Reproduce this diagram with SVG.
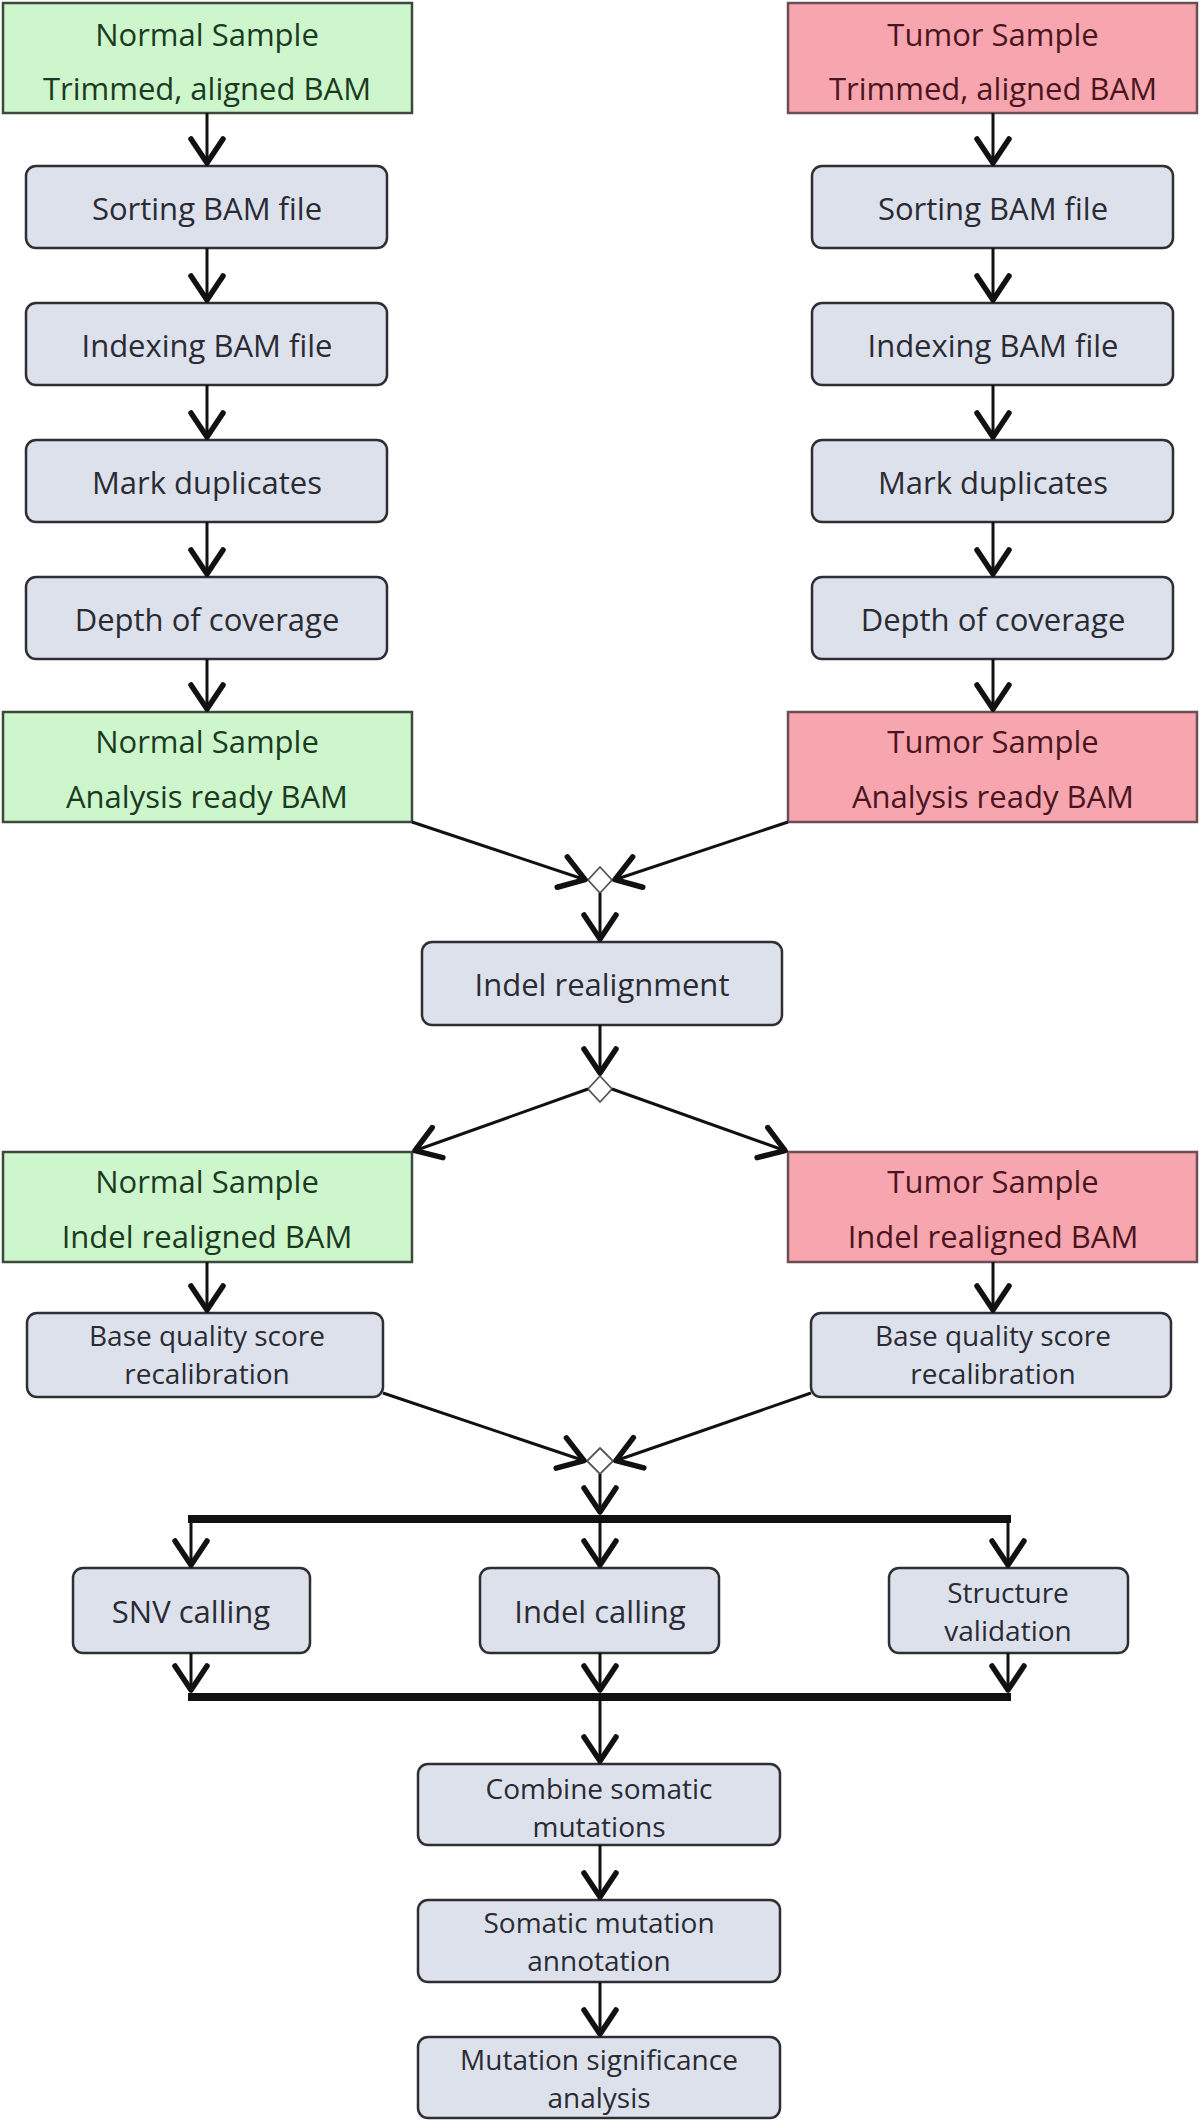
<svg xmlns="http://www.w3.org/2000/svg" width="1200" height="2121" viewBox="0 0 1200 2121">
<style>
text{font-family:"Open Sans","Noto Sans","Liberation Sans",sans-serif;font-size:31px;text-anchor:middle}
text.two{font-size:28px}
.proc rect{fill:#dde1ec;stroke:#2e2e33;stroke-width:2.5}
.proc text{fill:#2a2b33}
.norm rect{fill:#cdf6cd;stroke:#3c4a3c;stroke-width:2.5}
.norm text{fill:#1c3a1f}
.tum rect{fill:#f7a5ae;stroke:#6a5055;stroke-width:2.5}
.tum text{fill:#4a1520}
.dia{fill:#ffffff;stroke:#555;stroke-width:1.8}
#connectors line{stroke:#111;stroke-width:3;fill:none}
.bar{fill:#111}
</style>
<defs>
<marker id="arr" markerUnits="userSpaceOnUse" viewBox="-30 -20 34 40" refX="0" refY="0" markerWidth="34" markerHeight="40" orient="auto" overflow="visible">
<path d="M -25 -16 L -1 0 L -25 16" fill="none" stroke="#111" stroke-width="5.5" stroke-linecap="round" stroke-linejoin="round"/>
</marker>
</defs>
<rect width="1200" height="2121" fill="#ffffff"/>

<g id="normal_trimmed" class="norm"><rect x="3" y="3" width="409" height="110"/><text x="207" y="46">Normal Sample</text><text x="207" y="100">Trimmed, aligned BAM</text></g>
<g id="tumor_trimmed" class="tum"><rect x="788" y="3" width="409" height="110"/><text x="993" y="46">Tumor Sample</text><text x="993" y="100">Trimmed, aligned BAM</text></g>

<g id="n_sort" class="proc"><rect x="26" y="166" width="361" height="82" rx="10"/><text x="207" y="220">Sorting BAM file</text></g>
<g id="n_index" class="proc"><rect x="26" y="303" width="361" height="82" rx="10"/><text x="207" y="357">Indexing BAM file</text></g>
<g id="n_mark" class="proc"><rect x="26" y="440" width="361" height="82" rx="10"/><text x="207" y="494">Mark duplicates</text></g>
<g id="n_depth" class="proc"><rect x="26" y="577" width="361" height="82" rx="10"/><text x="207" y="631">Depth of coverage</text></g>

<g id="t_sort" class="proc"><rect x="812" y="166" width="361" height="82" rx="10"/><text x="993" y="220">Sorting BAM file</text></g>
<g id="t_index" class="proc"><rect x="812" y="303" width="361" height="82" rx="10"/><text x="993" y="357">Indexing BAM file</text></g>
<g id="t_mark" class="proc"><rect x="812" y="440" width="361" height="82" rx="10"/><text x="993" y="494">Mark duplicates</text></g>
<g id="t_depth" class="proc"><rect x="812" y="577" width="361" height="82" rx="10"/><text x="993" y="631">Depth of coverage</text></g>

<g id="normal_ready" class="norm"><rect x="3" y="712" width="409" height="110"/><text x="207" y="753">Normal Sample</text><text x="207" y="808">Analysis ready BAM</text></g>
<g id="tumor_ready" class="tum"><rect x="788" y="712" width="409" height="110"/><text x="993" y="753">Tumor Sample</text><text x="993" y="808">Analysis ready BAM</text></g>

<g id="merge1"><path class="dia" d="M600 867 L612 880 L600 893 L588 880 Z"/></g>
<g id="indel_realign" class="proc"><rect x="422" y="942" width="360" height="83" rx="10"/><text x="602" y="996">Indel realignment</text></g>
<g id="split1"><path class="dia" d="M600 1076 L612 1089 L600 1102 L588 1089 Z"/></g>

<g id="normal_realigned" class="norm"><rect x="3" y="1152" width="409" height="110"/><text x="207" y="1193">Normal Sample</text><text x="207" y="1248">Indel realigned BAM</text></g>
<g id="tumor_realigned" class="tum"><rect x="788" y="1152" width="409" height="110"/><text x="993" y="1193">Tumor Sample</text><text x="993" y="1248">Indel realigned BAM</text></g>

<g id="n_bqsr" class="proc"><rect x="27" y="1313" width="356" height="84" rx="10"/><text class="two" x="207" y="1346">Base quality score</text><text class="two" x="207" y="1384">recalibration</text></g>
<g id="t_bqsr" class="proc"><rect x="811" y="1313" width="360" height="84" rx="10"/><text class="two" x="993" y="1346">Base quality score</text><text class="two" x="993" y="1384">recalibration</text></g>

<g id="merge2"><path class="dia" d="M600 1448 L613 1461 L600 1474 L587 1461 Z"/></g>

<g id="snv" class="proc"><rect x="73" y="1568" width="237" height="85" rx="10"/><text x="191" y="1623">SNV calling</text></g>
<g id="indel_call" class="proc"><rect x="480" y="1568" width="239" height="85" rx="10"/><text x="600" y="1623">Indel calling</text></g>
<g id="structure" class="proc"><rect x="889" y="1568" width="239" height="85" rx="10"/><text class="two" x="1008" y="1603">Structure</text><text class="two" x="1008" y="1641">validation</text></g>

<g id="combine" class="proc"><rect x="418" y="1764" width="362" height="81" rx="10"/><text class="two" x="599" y="1799">Combine somatic</text><text class="two" x="599" y="1837">mutations</text></g>
<g id="annotation" class="proc"><rect x="418" y="1900" width="362" height="82" rx="10"/><text class="two" x="599" y="1933">Somatic mutation</text><text class="two" x="599" y="1971">annotation</text></g>
<g id="significance" class="proc"><rect x="418" y="2037" width="362" height="81" rx="10"/><text class="two" x="599" y="2070">Mutation significance</text><text class="two" x="599" y="2108">analysis</text></g>

<g id="connectors">
<rect class="bar" x="188" y="1515" width="823" height="8"/>
<rect class="bar" x="188" y="1693" width="823" height="8"/>
<line x1="207" y1="113" x2="207" y2="164" marker-end="url(#arr)"/>
<line x1="207" y1="248" x2="207" y2="301" marker-end="url(#arr)"/>
<line x1="207" y1="385" x2="207" y2="438" marker-end="url(#arr)"/>
<line x1="207" y1="522" x2="207" y2="575" marker-end="url(#arr)"/>
<line x1="207" y1="659" x2="207" y2="710" marker-end="url(#arr)"/>
<line x1="993" y1="113" x2="993" y2="164" marker-end="url(#arr)"/>
<line x1="993" y1="248" x2="993" y2="301" marker-end="url(#arr)"/>
<line x1="993" y1="385" x2="993" y2="438" marker-end="url(#arr)"/>
<line x1="993" y1="522" x2="993" y2="575" marker-end="url(#arr)"/>
<line x1="993" y1="659" x2="993" y2="710" marker-end="url(#arr)"/>
<line x1="412" y1="822" x2="586" y2="880" marker-end="url(#arr)"/>
<line x1="788" y1="822" x2="614" y2="880" marker-end="url(#arr)"/>
<line x1="600" y1="893" x2="600" y2="940" marker-end="url(#arr)"/>
<line x1="600" y1="1025" x2="600" y2="1074" marker-end="url(#arr)"/>
<line x1="588" y1="1089" x2="414" y2="1151" marker-end="url(#arr)"/>
<line x1="612" y1="1089" x2="786" y2="1151" marker-end="url(#arr)"/>
<line x1="207" y1="1262" x2="207" y2="1311" marker-end="url(#arr)"/>
<line x1="993" y1="1262" x2="993" y2="1311" marker-end="url(#arr)"/>
<line x1="383" y1="1393" x2="585" y2="1461" marker-end="url(#arr)"/>
<line x1="811" y1="1393" x2="615" y2="1461" marker-end="url(#arr)"/>
<line x1="600" y1="1474" x2="600" y2="1513" marker-end="url(#arr)"/>
<line x1="191" y1="1523" x2="191" y2="1566" marker-end="url(#arr)"/>
<line x1="600" y1="1523" x2="600" y2="1566" marker-end="url(#arr)"/>
<line x1="1008" y1="1523" x2="1008" y2="1566" marker-end="url(#arr)"/>
<line x1="191" y1="1653" x2="191" y2="1691" marker-end="url(#arr)"/>
<line x1="600" y1="1653" x2="600" y2="1691" marker-end="url(#arr)"/>
<line x1="1008" y1="1653" x2="1008" y2="1691" marker-end="url(#arr)"/>
<line x1="600" y1="1701" x2="600" y2="1762" marker-end="url(#arr)"/>
<line x1="600" y1="1845" x2="600" y2="1898" marker-end="url(#arr)"/>
<line x1="600" y1="1982" x2="600" y2="2035" marker-end="url(#arr)"/>
</g>
</svg>
